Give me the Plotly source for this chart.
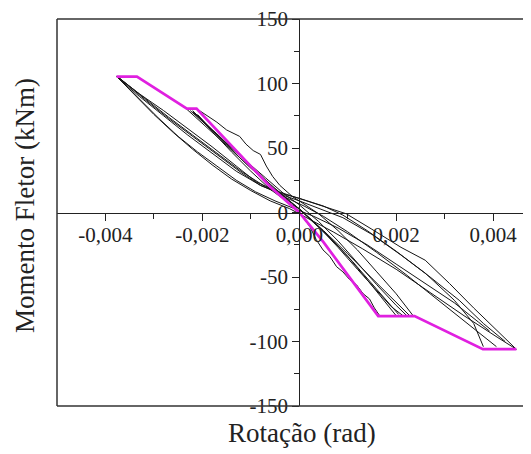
import plotly.graph_objects as go

# ---- tick data ----
x_tickvals = [-0.004, -0.002, 0.0, 0.002, 0.004]
x_ticktext = ["-0,004", "-0,002", "0,000", "0,002", "0,004"]
y_tickvals = [-150, -100, -50, 0, 50, 100, 150]
y_ticktext = ["-150", "-100", "-50", "0", "50", "100", "150"]

# ---- envelope (magenta) ----
env_x = [-0.00377, -0.00335, -0.00232, -0.00212, -0.0006, 0.0, 0.0005, 0.00163, 0.00238, 0.00379, 0.00448]
env_y = [105.3, 105.3, 80.5, 80.5, 20, 0, -23, -80.3, -80.3, -105.9, -105.9]

# ---- hysteresis branches (black) : large cycles ----
b1_x = [-0.00377, -0.0034, -0.0030, -0.0026, -0.0022, -0.0018, -0.0014, -0.0010, -0.0006, -0.0002, 0.0002, 0.0007, 0.0013, 0.0020, 0.0027, 0.0034, 0.0041, 0.00448]
b1_y = [105.5, 91, 76, 62, 49, 37, 26, 17, 9, 3, -5, -15, -28, -44, -62, -80, -97, -106]
b2_x = [-0.00377, -0.0033, -0.0028, -0.0023, -0.0018, -0.0013, -0.0009, -0.0005, -0.0001, 0.0004, 0.00097, 0.0015, 0.0021, 0.0026, 0.0031, 0.0036, 0.0041, 0.00448]
b2_y = [105.5, 92, 79, 65, 51, 36, 24, 17, 12, 6, -1, -13, -27, -37, -55, -74, -92, -106]
b3_x = [-0.00372, -0.0032, -0.0027, -0.0022, -0.0017, -0.0012, -0.0008, -0.0004, 0.0, 0.0005, 0.0009, 0.0014, 0.0020, 0.0026, 0.0032, 0.0036, 0.0038]
b3_y = [104.5, 88, 73, 59, 45, 31, 21, 15, 11, 5, -2, -14, -30, -47, -68, -86, -104]
b4_x = [-0.00375, -0.0033, -0.0029, -0.0025, -0.0021, -0.0017, -0.0013, -0.0009, -0.0005, -0.0001, 0.0003, 0.0008, 0.0014, 0.0020, 0.0026, 0.0032, 0.0037, 0.00393]
b4_y = [105, 88, 73, 59, 47, 36, 25, 16, 9, 3, -3, -12, -25, -40, -55, -70, -85, -92]
b5_x = [-0.00374, -0.0032, -0.0027, -0.0022, -0.0017, -0.0012, -0.0007, -0.0003, 0.0001, 0.0005, 0.0010, 0.0016, 0.0022, 0.0028, 0.0034, 0.0039, 0.00407]
b5_y = [105, 89, 74, 60, 46, 32, 20, 12, 5, -3, -15, -31, -48, -66, -84, -99, -104]
b6_x = [-0.00376, -0.0033, -0.0028, -0.0023, -0.0018, -0.0013, -0.0008, -0.0003, 0.0, 0.0004, 0.0009, 0.0015, 0.0021, 0.0027, 0.0033, 0.0038, 0.00425]
b6_y = [105, 90, 75, 60, 46, 32, 21, 13, 9, 3, -4, -17, -33, -50, -68, -86, -100]

# ---- hysteresis branches (black) : medium cycles ----
m1_x = [-0.00232, -0.0019, -0.0015, -0.0011, -0.0007, -0.0003, 0.0, 0.0004, 0.0008, 0.0012, 0.0016, 0.0019, 0.00214]
m1_y = [80, 66, 52, 38, 24, 11, 3, -11, -27, -44, -61, -73, -80]
m2_x = [-0.0022, -0.0018, -0.0014, -0.0010, -0.0006, -0.0002, 0.0, 0.0005, 0.0010, 0.0015, 0.0020, 0.00228]
m2_y = [79, 63, 47, 32, 18, 7, 3, -14, -32, -51, -70, -80]
m3_x = [-0.0021, -0.0019, -0.0017, -0.0015, -0.00135, -0.00123, -0.0011, -0.00095, -0.0008, -0.00068, -0.00055, -0.0004, -0.00025, -0.00013, 0.0, 0.0004, 0.0008, 0.0012, 0.0016, 0.0020, 0.00235]
m3_y = [80, 75, 70, 64, 61, 59, 53, 48, 45, 36, 28, 21, 16, 12, 9, -1, -14, -29, -46, -63, -80]
m4_x = [-0.0022, -0.0017, -0.0012, -0.0007, -0.0003, 0.0, 0.00008, 0.00022, 0.00035, 0.00049, 0.00063, 0.00077, 0.0009, 0.00104, 0.00118, 0.00132, 0.00145, 0.00155, 0.00166]
m4_y = [78, 61, 43, 25, 10, 1, -4, -11, -21, -29, -34, -42, -46, -52, -56, -63, -67, -74, -80]
m5_x = [-0.00215, -0.0018, -0.0014, -0.0010, -0.0006, -0.0002, 0.0002, 0.0006, 0.0010, 0.0014, 0.0017, 0.0020]
m5_y = [77, 64, 50, 36, 22, 9, -4, -18, -34, -52, -66, -80]
m6_x = [-0.00225, -0.0019, -0.0015, -0.0011, -0.0007, -0.0003, 0.0, 0.0004, 0.0008, 0.0012, 0.0016, 0.0020, 0.00222]
m6_y = [79, 67, 53, 40, 27, 14, 6, -7, -22, -39, -56, -72, -80]
m7_x = [-0.0021, -0.0017, -0.0013, -0.0009, -0.0005, -0.0001, 0.0003, 0.0007, 0.0011, 0.0015, 0.0018, 0.00205]
m7_y = [76, 60, 45, 31, 18, 6, -8, -22, -38, -55, -68, -79]

branches = [(b1_x, b1_y), (b2_x, b2_y), (b3_x, b3_y), (b4_x, b4_y), (b5_x, b5_y), (b6_x, b6_y),
            (m1_x, m1_y), (m2_x, m2_y), (m3_x, m3_y), (m4_x, m4_y), (m5_x, m5_y),
            (m6_x, m6_y), (m7_x, m7_y)]

fig = go.Figure()
for bx, by in branches:
    fig.add_trace(go.Scatter(x=bx, y=by, mode="lines",
                             line=dict(color="#151515", width=1),
                             showlegend=False, hoverinfo="skip"))
fig.add_trace(go.Scatter(x=env_x, y=env_y, mode="lines",
                         line=dict(color="#e020e0", width=2.7),
                         showlegend=False, hoverinfo="skip"))

FONT = "Liberation Serif, Times New Roman, serif"
x_range = [-0.005, 0.004783]
xpos0 = (0 - x_range[0]) / (x_range[1] - x_range[0])

# page has an 8px body margin: figure is placed at (8, 8)
fig.update_layout(
    width=523, height=446,
    margin=dict(l=49, r=0, t=11, b=48, autoexpand=False),
    paper_bgcolor="white", plot_bgcolor="white",
    font=dict(family=FONT, size=21, color="#222"),
    xaxis=dict(range=x_range, anchor="free", position=0.5, automargin=False,
               showgrid=False, zeroline=False, showline=True,
               linecolor="#222", linewidth=1, ticklabeloverflow="allow",
               ticklabelstandoff=-4,
               ticks="outside", ticklen=7, tickcolor="#222",
               tickmode="array", tickvals=x_tickvals, ticktext=x_ticktext,
               minor=dict(ticks="outside", ticklen=5, tickcolor="#222",
                          tickmode="array", tickvals=[-0.003, -0.001, 0.001, 0.003]),
               tickfont=dict(family=FONT, size=21, color="#222")),
    yaxis=dict(range=[-150, 150], anchor="free", position=xpos0, automargin=False,
               showgrid=False, zeroline=False, showline=True,
               linecolor="#222", linewidth=1, ticklabeloverflow="allow",
               ticks="outside", ticklen=7, tickcolor="#222",
               tickmode="array", tickvals=y_tickvals, ticktext=y_ticktext,
               minor=dict(ticks="outside", ticklen=5, tickcolor="#222",
                          tickmode="array", tickvals=[-125, -75, -25, 25, 75, 125]),
               tickfont=dict(family=FONT, size=21, color="#222")),
    shapes=[
        dict(type="line", xref="paper", yref="paper", x0=0, x1=1.01, y0=1, y1=1,
             line=dict(color="#333", width=1.5)),
        dict(type="line", xref="paper", yref="paper", x0=0, x1=1.01, y0=0, y1=0,
             line=dict(color="#333", width=1.5)),
        dict(type="line", xref="paper", yref="paper", x0=0, x1=0, y0=0, y1=1,
             line=dict(color="#333", width=1.5)),
    ],
    annotations=[
        dict(text="Rotação (rad)", xref="paper", yref="paper",
             x=(302 - 57) / 474, y=-(433 - 406) / 387, showarrow=False,
             xanchor="center", yanchor="middle",
             font=dict(family=FONT, size=27, color="#222")),
        dict(text="Momento Fletor (kNm)", xref="paper", yref="paper",
             x=-(57 - 25) / 474, y=(406 - 206) / 387, showarrow=False,
             textangle=-90, xanchor="center", yanchor="middle",
             font=dict(family=FONT, size=27, color="#222")),
    ],
)

fig.write_html("out.html")
